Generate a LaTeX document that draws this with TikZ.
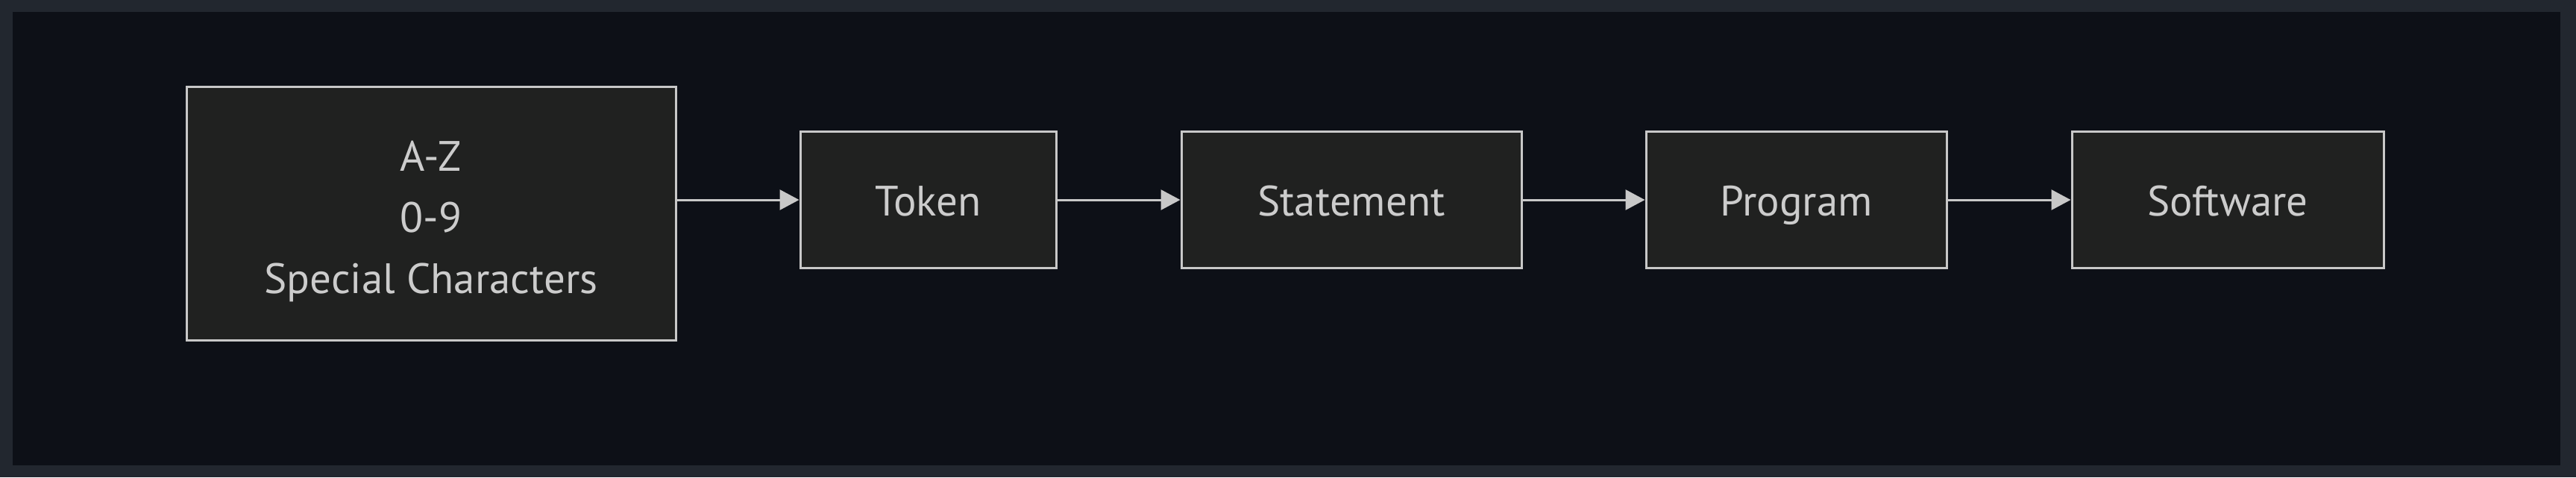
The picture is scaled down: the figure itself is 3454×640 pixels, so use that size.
\documentclass[tikz,border=0pt]{standalone}
\usepackage{fontspec}
\setmainfont{PT Sans}
\usetikzlibrary{arrows.meta}
\definecolor{outerbg}{HTML}{22272F}
\definecolor{innerbg}{HTML}{0D1017}
\definecolor{boxfill}{HTML}{202120}
\definecolor{boxline}{HTML}{C8C8C8}
\definecolor{txt}{HTML}{CCCCCC}
\tikzset{
  flowbox/.style={draw=boxline, fill=boxfill, line width=3pt, rectangle, inner sep=0pt,
    text=txt, font=\fontsize{57}{82}\selectfont, align=center},
  onebox/.style={flowbox, minimum height=183pt, text height=50pt, text depth=7pt},
  flowarrow/.style={draw=boxline, line width=3pt, -{Triangle[length=26pt,width=27pt]}}
}
\begin{document}
\begin{tikzpicture}[x=1pt,y=-1pt]
\fill[outerbg] (0,0) rectangle (3454,640);
\fill[innerbg] (17,16) rectangle (3433,624);
\useasboundingbox (0,0) rectangle (3454,640);
\node[flowbox, minimum width=656pt, minimum height=340pt] (chars) at (578,286) {\raisebox{-9pt}[\height][\depth]{\begin{tabular}{@{}c@{}}A-Z\\0-9\\Special Characters\end{tabular}}};
\node[onebox, minimum width=343pt] (token) at (1244.5,268) {Token};
\node[onebox, minimum width=456pt] (stmt) at (1812,268) {Statement};
\node[onebox, minimum width=403pt] (prog) at (2408.5,268) {Program};
\node[onebox, minimum width=418pt] (soft) at (2987,268) {Software};
\draw[flowarrow] (chars.east |- token.west) -- (token.west);
\draw[flowarrow] (token.east) -- (stmt.west);
\draw[flowarrow] (stmt.east) -- (prog.west);
\draw[flowarrow] (prog.east) -- (soft.west);
\end{tikzpicture}
\end{document}
